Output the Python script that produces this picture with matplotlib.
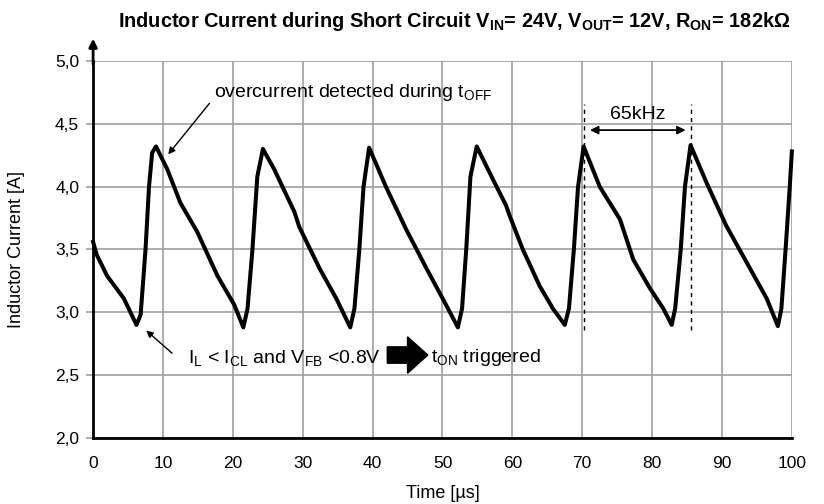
import matplotlib
matplotlib.use("Agg")
import matplotlib.pyplot as plt
from matplotlib import font_manager

plt.rcParams['font.family'] = ['Liberation Sans', 'DejaVu Sans']
plt.rcParams['mathtext.fontset'] = 'custom'
plt.rcParams['mathtext.rm'] = 'Liberation Sans'
plt.rcParams['mathtext.it'] = 'Liberation Sans'
plt.rcParams['mathtext.bf'] = 'Liberation Sans:bold'

# waveform
time_us = [0.0, 0.5, 2.0, 4.4, 6.2, 6.8, 7.5, 8.0, 8.45, 9.0,
           10.6, 12.5, 14.9, 17.8, 20.2, 21.5, 22.1, 22.8, 23.5, 24.3,
           25.9, 28.8, 29.5, 32.4, 34.8, 36.8, 37.4, 38.1, 38.7, 39.5,
           41.9, 44.8, 47.7, 50.5, 52.2, 52.8, 53.4, 54.0, 54.9,
           57.2, 59.1, 59.6, 61.5, 63.9, 65.8, 67.5, 68.1, 68.8, 69.4, 70.2,
           72.5, 75.4, 77.3, 79.7, 81.6, 82.8, 83.3, 84.1, 84.7, 85.5,
           87.8, 90.6, 93.5, 96.4, 98.0, 98.5, 99.1, 99.7, 100.0]
current_a = [3.56, 3.46, 3.29, 3.11, 2.90, 2.98, 3.50, 4.00, 4.27, 4.32,
             4.14, 3.87, 3.64, 3.29, 3.06, 2.88, 3.03, 3.50, 4.08, 4.30,
             4.14, 3.80, 3.68, 3.35, 3.11, 2.88, 3.03, 3.50, 4.00, 4.31,
             4.00, 3.66, 3.35, 3.06, 2.88, 3.03, 3.50, 4.08, 4.32,
             4.06, 3.85, 3.77, 3.50, 3.21, 3.03, 2.90, 3.03, 3.50, 4.00, 4.32,
             4.00, 3.74, 3.42, 3.19, 3.03, 2.90, 3.03, 3.50, 4.00, 4.33,
             4.03, 3.69, 3.40, 3.11, 2.89, 3.03, 3.50, 4.00, 4.28]

x_ticks = [0, 10, 20, 30, 40, 50, 60, 70, 80, 90, 100]
y_ticks = [2.0, 2.5, 3.0, 3.5, 4.0, 4.5, 5.0]
y_labels = ['2,0', '2,5', '3,0', '3,5', '4,0', '4,5', '5,0']
period_marks = [70.25, 85.6]

names = {f.name for f in font_manager.fontManager.ttflist}
title_font = 'Liberation Sans Narrow' if 'Liberation Sans Narrow' in names else 'Liberation Sans'

fig = plt.figure(figsize=(8.24, 5.04), dpi=100)
ax = fig.add_axes([0.113, 0.131, 0.848, 0.748])

ax.set_xlim(0, 100)
ax.set_ylim(2.0, 5.0)
ax.set_xticks(x_ticks)
ax.set_yticks(y_ticks)
ax.set_yticklabels(y_labels)
ax.tick_params(axis='x', length=0, pad=13, labelsize=12.5)
ax.tick_params(axis='y', length=5, color='#a0a0a0', width=1.2, labelsize=12.5, pad=5)

for s in ['top', 'right']:
    ax.spines[s].set_visible(False)
ax.spines['left'].set_linewidth(2)
ax.spines['bottom'].set_linewidth(2)

ax.grid(True, color='#a0a0a0', linewidth=1.2)
ax.set_axisbelow(True)

# arrow tip on the y axis
ax.annotate('', xy=(0, 5.2), xytext=(0, 4.95), xycoords='data',
            arrowprops=dict(arrowstyle='-|>', color='black', lw=2, mutation_scale=12),
            annotation_clip=False)

ax.plot(time_us, current_a, color='black', linewidth=2.9, solid_joinstyle='round', clip_on=False)

# period markers
for xm in period_marks:
    ax.plot([xm, xm], [2.86, 4.66], color='black', linestyle=(0, (3, 3)), linewidth=1)
ax.annotate('', xy=(70.7, 4.45), xytext=(85.2, 4.45),
            arrowprops=dict(arrowstyle='<|-|>', color='black', lw=1.3, mutation_scale=12))
ax.text(77.9, 4.575, '65kHz', ha='center', va='center', fontsize=14)

# annotations
ax.annotate('', xy=(10.5, 4.24), xytext=(16.9, 4.68),
            arrowprops=dict(arrowstyle='-|>', color='black', lw=1, mutation_scale=10))
ax.text(17.3, 4.75, r'overcurrent detected during t$_\mathrm{OFF}$', ha='left', va='center', fontsize=14)

ax.annotate('', xy=(7.3, 2.87), xytext=(11.6, 2.66),
            arrowprops=dict(arrowstyle='-|>', color='black', lw=1, mutation_scale=10))
ax.text(13.6, 2.64, r'I$_\mathrm{L}$ < I$_\mathrm{CL}$ and V$_\mathrm{FB}$ <0.8V',
        ha='left', va='center', fontsize=14)
ax.arrow(42.1, 2.66, 5.8, 0, width=0.13, head_width=0.29, head_length=2.9,
         length_includes_head=True, color='black')
ax.text(48.4, 2.64, r't$_\mathrm{ON}$ triggered', ha='left', va='center', fontsize=14)

ax.set_xlabel('Time [µs]', fontsize=13, labelpad=10)
ax.set_ylabel('Inductor Current [A]', fontsize=13, labelpad=22)

fig.text(0.551, 0.957,
         r'Inductor Current during Short Circuit V$_\mathbf{IN}$= 24V, V$_\mathbf{OUT}$= 12V, R$_\mathbf{ON}$= 182kΩ',
         ha='center', va='center', fontsize=14.4, fontweight='bold', family=title_font)

fig.savefig('out.png', dpi=100)
